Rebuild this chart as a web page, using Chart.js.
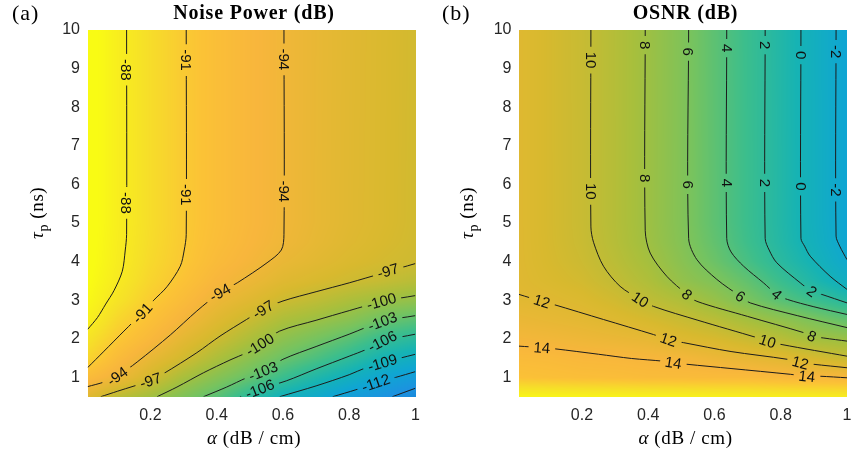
<!DOCTYPE html>
<html lang="en">
<head>
<meta charset="UTF-8">
<title>Noise Power and OSNR</title>
<script src="https://cdn.jsdelivr.net/npm/chart.js"></script>
<style>
    body { margin: 0; background: #fff; overflow: hidden; }
    canvas { position: absolute; top: 0; }
</style>
</head>
<body>
<canvas id="noise" width="430" height="459" style="left:0"></canvas>
<canvas id="osnr" width="424" height="459" style="left:430px"></canvas>

<script>
// grid where the colour field was read (alpha in dB/cm, tau_p in ns)
const alphaGrid = [0.01, 0.1, 0.2, 0.3, 0.4, 0.5, 0.6, 0.7, 0.8, 0.9, 1.0];
const tauGrid = [0.5, 1, 1.5, 2, 2.5, 3, 3.5, 4, 4.5, 5, 10];

// noise power (dB), one row per tau value
const noiseGrid = [
    [-95.5, -98.0, -99.7, -101.8, -103.8, -106.5, -109.0, -110.5, -112.8, -114.6, -116.5],
    [-92.5, -94.2, -96.6, -99.3, -101.3, -103.2, -105.5, -107.5, -109.3, -111.4, -113.0],
    [-89.9, -92.5, -94.8, -96.7, -99.0, -101.0, -102.9, -104.5, -106.3, -108.4, -109.7],
    [-88.6, -91.0, -93.0, -95.2, -97.0, -99.0, -100.9, -102.3, -103.8, -105.7, -106.7],
    [-87.2, -89.8, -91.8, -93.7, -95.6, -97.2, -99.0, -100.0, -101.1, -102.8, -103.7],
    [-86.3, -88.6, -90.7, -92.5, -94.4, -95.6, -97.0, -97.9, -99.0, -99.9, -100.6],
    [-85.8, -87.9, -90.0, -91.6, -93.3, -94.4, -95.6, -96.3, -96.9, -97.5, -98.3],
    [-85.5, -87.6, -89.6, -91.1, -92.6, -93.6, -94.7, -95.4, -96.1, -96.6, -96.95],
    [-85.4, -87.5, -89.4, -90.95, -92.25, -93.25, -94.15, -95.0, -95.7, -96.3, -96.8],
    [-85.3, -87.4, -89.3, -90.9, -92.1, -93.1, -94.0, -94.85, -95.55, -96.15, -96.75],
    [-85.3, -87.4, -89.3, -90.9, -92.1, -93.1, -94.0, -94.8, -95.5, -96.1, -96.7]
];

// OSNR (dB), one row per tau value
const osnrGrid = [
    [20.0, 19.9, 19.8, 19.7, 19.6, 19.5, 19.4, 19.3, 19.2, 19.1, 19.0],
    [15.4, 15.2, 15.0, 14.9, 14.7, 14.7, 14.6, 14.6, 14.3, 14.1, 13.95],
    [14.6, 14.5, 14.2, 14.1, 13.9, 13.6, 13.0, 12.5, 12.0, 11.1, 10.3],
    [13.6, 13.4, 13.1, 12.8, 12.45, 11.7, 11.2, 10.4, 9.4, 8.2, 7.7],
    [12.8, 12.5, 12.2, 11.7, 11.1, 10.35, 9.5, 8.3, 7.2, 6.05, 4.8],
    [12.05, 11.9, 11.5, 10.8, 9.8, 8.9, 7.6, 6.0, 4.4, 3.0, 1.6],
    [11.88, 11.4, 10.9, 10.0, 8.9, 7.4, 6.3, 4.8, 2.9, 1.0, -0.9],
    [11.82, 11.2, 10.55, 9.55, 8.35, 6.85, 5.3, 3.6, 1.8, 0.1, -1.9],
    [11.8, 11.12, 10.38, 9.3, 8.0, 6.55, 4.85, 3.1, 1.35, -0.4, -2.4],
    [11.8, 11.1, 10.32, 9.22, 7.92, 6.45, 4.65, 2.95, 1.25, -0.55, -2.55],
    [11.8, 11.1, 10.3, 9.2, 7.9, 6.4, 4.6, 2.9, 1.2, -0.6, -2.6]
];

const xTicks = [0.2, 0.4, 0.6, 0.8, 1];
const yTicks = [1, 2, 3, 4, 5, 6, 7, 8, 9, 10];

// contour lines, [alpha, tau] points
const noiseLevels = [-88, -91, -94, -97, -100, -103, -106, -109, -112, -115];
const noisePaths = [
    [[0.128, 10], [0.128, 4.7], [0.124, 4.3], [0.115, 3.75], [0.09, 3.25], [0.065, 2.9], [0.04, 2.55], [0.01, 2.24]],
    [[0.308, 10], [0.308, 4.7], [0.302, 4.3], [0.29, 3.88], [0.25, 3.35], [0.21, 3.0], [0.175, 2.67], [0.12, 2.2], [0.06, 1.68], [0.01, 1.25]],
    [[0.603, 10], [0.603, 4.7], [0.595, 4.3], [0.552, 3.97], [0.462, 3.45], [0.41, 3.2], [0.34, 2.72], [0.26, 2.1], [0.16, 1.4], [0.10, 1.03], [0.06, 0.88], [0.01, 0.76]],
    [[0.05, 0.5], [0.10, 0.64], [0.2, 0.92], [0.24, 1.1], [0.34, 1.64], [0.41, 2.07], [0.49, 2.5], [0.54, 2.76], [0.6, 2.98], [0.7, 3.22], [0.8, 3.45], [0.9, 3.7], [1.0, 3.95]],
    [[0.22, 0.5], [0.28, 0.75], [0.36, 1.12], [0.44, 1.45], [0.49, 1.64], [0.53, 1.85], [0.59, 2.2], [0.7, 2.48], [0.8, 2.73], [0.9, 2.97], [1.0, 3.12]],
    [[0.36, 0.5], [0.43, 0.75], [0.49, 0.99], [0.54, 1.16], [0.6, 1.47], [0.7, 1.8], [0.8, 2.12], [0.9, 2.45], [1.0, 2.6]],
    [[0.47, 0.5], [0.53, 0.7], [0.61, 0.91], [0.7, 1.22], [0.8, 1.55], [0.85, 1.72], [0.9, 1.94], [1.0, 2.12]],
    [[0.59, 0.5], [0.7, 0.78], [0.8, 1.07], [0.85, 1.25], [0.9, 1.38], [1.0, 1.6]],
    [[0.75, 0.5], [0.82, 0.68], [0.88, 0.86], [0.94, 1.0], [1.0, 1.15]],
    [[0.93, 0.5], [1.0, 0.72]]
];
// [level, alpha, tau]
const noiseLabels = [
    [-88, 0.128, 8.97], [-88, 0.128, 5.52],
    [-91, 0.308, 9.22], [-91, 0.308, 5.73], [-91, 0.175, 2.67],
    [-94, 0.603, 9.24], [-94, 0.603, 5.82], [-94, 0.41, 3.2], [-94, 0.10, 1.03],
    [-97, 0.2, 0.92], [-97, 0.54, 2.76], [-97, 0.917, 3.76],
    [-100, 0.53, 1.85], [-100, 0.897, 2.97],
    [-103, 0.54, 1.16], [-103, 0.9, 2.45],
    [-106, 0.53, 0.7], [-106, 0.9, 1.94],
    [-109, 0.9, 1.38],
    [-112, 0.88, 0.86]
];

const osnrLevels = [14, 12, 10, 8, 6, 4, 2, 0, -2];
const osnrPaths = [
    [[0.01, 1.81], [0.079, 1.77], [0.119, 1.74], [0.25, 1.6], [0.35, 1.49], [0.446, 1.42], [0.476, 1.38], [0.517, 1.34], [0.65, 1.23], [0.829, 1.08], [0.879, 1.03], [0.919, 1.03], [1.0, 0.99]],
    [[0.01, 3.15], [0.079, 2.97], [0.114, 2.89], [0.265, 2.5], [0.416, 2.11], [0.461, 1.98], [0.507, 1.9], [0.65, 1.67], [0.819, 1.47], [0.859, 1.38], [0.899, 1.34], [1.0, 1.25]],
    [[0.227, 10], [0.227, 4.9], [0.235, 4.5], [0.265, 3.88], [0.315, 3.36], [0.376, 3.02], [0.416, 2.84], [0.55, 2.48], [0.728, 2.03], [0.76, 1.94], [0.804, 1.85], [1.0, 1.55]],
    [[0.391, 10], [0.391, 4.8], [0.406, 4.22], [0.456, 3.62], [0.517, 3.15], [0.547, 2.97], [0.7, 2.58], [0.869, 2.16], [0.894, 2.07], [0.93, 2.02], [1.0, 1.94]],
    [[0.522, 10], [0.522, 4.6], [0.547, 4.05], [0.607, 3.54], [0.678, 3.1], [0.708, 2.93], [0.85, 2.6], [1.0, 2.29]],
    [[0.637, 10], [0.637, 4.6], [0.65, 4.25], [0.688, 3.88], [0.748, 3.45], [0.788, 3.15], [0.82, 3.02], [0.9, 2.83], [1.0, 2.63]],
    [[0.753, 10], [0.753, 4.6], [0.765, 4.3], [0.788, 3.97], [0.859, 3.45], [0.894, 3.23], [0.924, 3.15], [1.0, 2.93]],
    [[0.861, 10], [0.861, 4.6], [0.872, 4.4], [0.889, 4.14], [0.949, 3.62], [1.0, 3.28]],
    [[0.967, 10], [0.967, 4.66], [0.978, 4.4], [0.989, 4.22], [1.0, 4.05]]
];
const osnrLabels = [
    [10, 0.227, 9.22], [10, 0.227, 5.82], [10, 0.376, 3.02], [10, 0.76, 1.94],
    [8, 0.391, 9.61], [8, 0.391, 6.16], [8, 0.517, 3.15], [8, 0.894, 2.07],
    [6, 0.522, 9.44], [6, 0.522, 5.99], [6, 0.678, 3.1],
    [4, 0.637, 9.53], [4, 0.637, 6.04], [4, 0.788, 3.15],
    [2, 0.753, 9.61], [2, 0.753, 6.04], [2, 0.894, 3.23],
    [0, 0.861, 9.35], [0, 0.861, 5.95],
    [-2, 0.967, 9.44], [-2, 0.967, 5.86],
    [12, 0.079, 2.97], [12, 0.461, 1.98], [12, 0.859, 1.38],
    [14, 0.079, 1.77], [14, 0.476, 1.38], [14, 0.879, 1.03]
];

// colormap stops [t, r, g, b], parula-like, matched to the picture
const COLOR_STOPS = [
    [0.00, 53, 42, 135], [0.125, 15, 92, 221], [0.25, 20, 129, 214], [0.33, 28, 146, 224],
    [0.41, 15, 166, 210], [0.48, 22, 179, 180], [0.55, 60, 190, 140], [0.62, 118, 195, 95],
    [0.69, 168, 191, 60], [0.76, 216, 185, 46], [0.83, 248, 182, 60], [0.87, 251, 194, 54],
    [0.93, 246, 224, 40], [1.00, 249, 251, 20]
];

const TICK_FONT = { family: '"Liberation Sans", Arial, sans-serif', size: 16 };
const SERIF = '"Liberation Serif", "Times New Roman", serif';
const LABEL_FONT = '15px "Liberation Sans", Arial, sans-serif';
const LINE_COLOR = '#1c1c1c';

function colormap(t) {
    t = Math.min(1, Math.max(0, t));
    let i = 0;
    while (i < COLOR_STOPS.length - 2 && t > COLOR_STOPS[i + 1][0]) i++;
    const a = COLOR_STOPS[i], b = COLOR_STOPS[i + 1];
    const f = (t - a[0]) / (b[0] - a[0]);
    return [a[1] + (b[1] - a[1]) * f, a[2] + (b[2] - a[2]) * f, a[3] + (b[3] - a[3]) * f];
}

function locate(arr, v) {
    let i = 0;
    while (i < arr.length - 2 && v > arr[i + 1]) i++;
    let f = (v - arr[i]) / (arr[i + 1] - arr[i]);
    return [i, Math.min(1, Math.max(0, f))];
}

function sampleGrid(grid, a, t) {
    const [i, fx] = locate(alphaGrid, a);
    const [j, fy] = locate(tauGrid, t);
    const lo = grid[j][i] * (1 - fx) + grid[j][i + 1] * fx;
    const hi = grid[j + 1][i] * (1 - fx) + grid[j + 1][i + 1] * fx;
    return lo * (1 - fy) + hi * fy;
}

// paints the colour field inside the chart area
function makeHeatmap(grid, cmin, cmax) {
    return {
        id: 'heatmap',
        beforeDatasetsDraw(chart) {
            const { ctx, chartArea: a, scales } = chart;
            const x0 = Math.round(a.left), y0 = Math.round(a.top);
            const w = Math.round(a.right) - x0, h = Math.round(a.bottom) - y0;
            const img = ctx.createImageData(w, h);
            for (let py = 0; py < h; py++) {
                const t = scales.y.getValueForPixel(y0 + py + 0.5);
                for (let px = 0; px < w; px++) {
                    const al = scales.x.getValueForPixel(x0 + px + 0.5);
                    const c = colormap((sampleGrid(grid, al, t) - cmin) / (cmax - cmin));
                    const k = (py * w + px) * 4;
                    img.data[k] = c[0];
                    img.data[k + 1] = c[1];
                    img.data[k + 2] = c[2];
                    img.data[k + 3] = 255;
                }
            }
            ctx.putImageData(img, x0, y0);
        }
    };
}

// cuts the contour lines around the labels and writes the labels
function makeContourLabels(levels, paths, labels) {
    let items = [];
    return {
        id: 'clabels',
        beforeDatasetsDraw(chart) {
            const { ctx, chartArea: a, scales: { x, y } } = chart;
            ctx.save();
            ctx.font = LABEL_FONT;
            items = labels.map(([lv, al, t]) => {
                const px = x.getPixelForValue(al), py = y.getPixelForValue(t);
                const pts = paths[levels.indexOf(lv)].map(([u, v]) => [x.getPixelForValue(u), y.getPixelForValue(v)]);
                let best = Infinity, ang = 0;
                for (let k = 0; k < pts.length - 1; k++) {
                    const [x1, y1] = pts[k], [x2, y2] = pts[k + 1];
                    const dx = x2 - x1, dy = y2 - y1;
                    let s = ((px - x1) * dx + (py - y1) * dy) / (dx * dx + dy * dy);
                    s = Math.min(1, Math.max(0, s));
                    const d = Math.hypot(x1 + s * dx - px, y1 + s * dy - py);
                    if (d < best) { best = d; ang = Math.atan2(dy, dx); }
                }
                if (ang > Math.PI / 2 + 1e-6) ang -= Math.PI;
                if (ang <= -Math.PI / 2 + 1e-6) ang += Math.PI;
                const text = String(lv);
                return { px, py, ang, text, w: ctx.measureText(text).width };
            });
            ctx.beginPath();
            ctx.rect(a.left, a.top, a.right - a.left, a.bottom - a.top);
            items.forEach(it => {
                const hw = it.w / 2 + 5, hh = 7;
                const c = Math.cos(it.ang), s = Math.sin(it.ang);
                [[-hw, -hh], [hw, -hh], [hw, hh], [-hw, hh]].forEach(([u, v], n) => {
                    const X = it.px + u * c - v * s, Y = it.py + u * s + v * c;
                    if (n === 0) ctx.moveTo(X, Y); else ctx.lineTo(X, Y);
                });
                ctx.closePath();
            });
            ctx.clip('evenodd');
        },
        afterDatasetsDraw(chart) {
            const ctx = chart.ctx;
            ctx.restore();
            ctx.save();
            ctx.font = LABEL_FONT;
            ctx.fillStyle = '#111';
            ctx.textAlign = 'center';
            ctx.textBaseline = 'middle';
            items.forEach(it => {
                ctx.save();
                ctx.translate(it.px, it.py);
                ctx.rotate(it.ang);
                ctx.fillText(it.text, 0, 1);
                ctx.restore();
            });
            ctx.restore();
        }
    };
}

function drawRun(ctx, parts, x, y) {
    parts.forEach(p => {
        ctx.font = p.font;
        ctx.fillText(p.text, x, y + (p.dy || 0));
        x += ctx.measureText(p.text).width;
    });
}

function runWidth(ctx, parts) {
    return parts.reduce((s, p) => { ctx.font = p.font; return s + ctx.measureText(p.text).width; }, 0);
}

// panel letter, title and axis titles
function makeDecor(panel, title) {
    return {
        id: 'decor',
        afterDraw(chart) {
            const { ctx, chartArea: a } = chart;
            const cx = (a.left + a.right) / 2 + 2.5;
            ctx.save();
            ctx.fillStyle = '#000';
            ctx.textBaseline = 'alphabetic';
            ctx.textAlign = 'left';
            ctx.letterSpacing = '1px';
            ctx.font = '22px ' + SERIF;
            ctx.fillText(panel, 12, 20);

            ctx.textAlign = 'center';
            ctx.letterSpacing = '0.8px';
            ctx.font = 'bold 20px ' + SERIF;
            ctx.fillText(title, cx, 19);

            ctx.textAlign = 'left';
            ctx.letterSpacing = '0.6px';
            const xParts = [
                { text: 'α', font: 'italic 19px ' + SERIF },
                { text: ' (dB / cm)', font: '19px ' + SERIF }
            ];
            drawRun(ctx, xParts, cx - runWidth(ctx, xParts) / 2, 444);

            const yParts = [
                { text: 'τ', font: 'italic 19px ' + SERIF },
                { text: 'p', font: '14px ' + SERIF, dy: 5 },
                { text: ' (ns)', font: '19px ' + SERIF }
            ];
            ctx.translate(43, 239);
            ctx.rotate(-Math.PI / 2);
            drawRun(ctx, yParts, 0, 0);
            ctx.restore();
        }
    };
}

function buildChart(id, opts) {
    return new Chart(document.getElementById(id), {
        type: 'scatter',
        data: {
            datasets: opts.paths.map(p => ({
                data: p.map(([a, t]) => ({ x: a, y: t })),
                showLine: true,
                borderColor: LINE_COLOR,
                borderWidth: 1,
                pointRadius: 0,
                tension: 0.3,
                fill: false
            }))
        },
        options: {
            responsive: false,
            animation: false,
            events: [],
            layout: { padding: { top: 30, right: opts.padRight, left: 0, bottom: 0 } },
            plugins: { legend: { display: false }, tooltip: { enabled: false } },
            scales: {
                x: {
                    type: 'linear', min: 0.01, max: 1,
                    grid: { display: false, drawTicks: false },
                    border: { display: false },
                    ticks: { font: TICK_FONT, color: '#262626', padding: 9, autoSkip: false, maxRotation: 0, callback: v => String(v) },
                    afterBuildTicks: s => { s.ticks = xTicks.map(v => ({ value: v })); },
                    afterFit: s => { s.height = 62.3; s.paddingLeft = 0; s.paddingRight = 0; }
                },
                y: {
                    type: 'linear', min: 0.5, max: 10,
                    grid: { display: false, drawTicks: false },
                    border: { display: false },
                    ticks: { font: TICK_FONT, color: '#262626', padding: 7.5, autoSkip: false, callback: v => String(v) },
                    afterBuildTicks: s => { s.ticks = yTicks.map(v => ({ value: v })); },
                    afterFit: s => { s.width = opts.yWidth; s.paddingTop = 0; s.paddingBottom = 0; }
                }
            }
        },
        plugins: [
            makeHeatmap(opts.grid, opts.cmin, opts.cmax),
            makeContourLabels(opts.levels, opts.paths, opts.labels),
            makeDecor(opts.panel, opts.title)
        ]
    });
}

buildChart('noise', {
    grid: noiseGrid, cmin: -129, cmax: -86,
    levels: noiseLevels, paths: noisePaths, labels: noiseLabels,
    panel: '(a)', title: 'Noise Power (dB)',
    yWidth: 87.5, padRight: 14.5
});

buildChart('osnr', {
    grid: osnrGrid, cmin: -18.4, cmax: 20.6,
    levels: osnrLevels, paths: osnrPaths, labels: osnrLabels,
    panel: '(b)', title: 'OSNR (dB)',
    yWidth: 89, padRight: 7
});
</script>
</body>
</html>
